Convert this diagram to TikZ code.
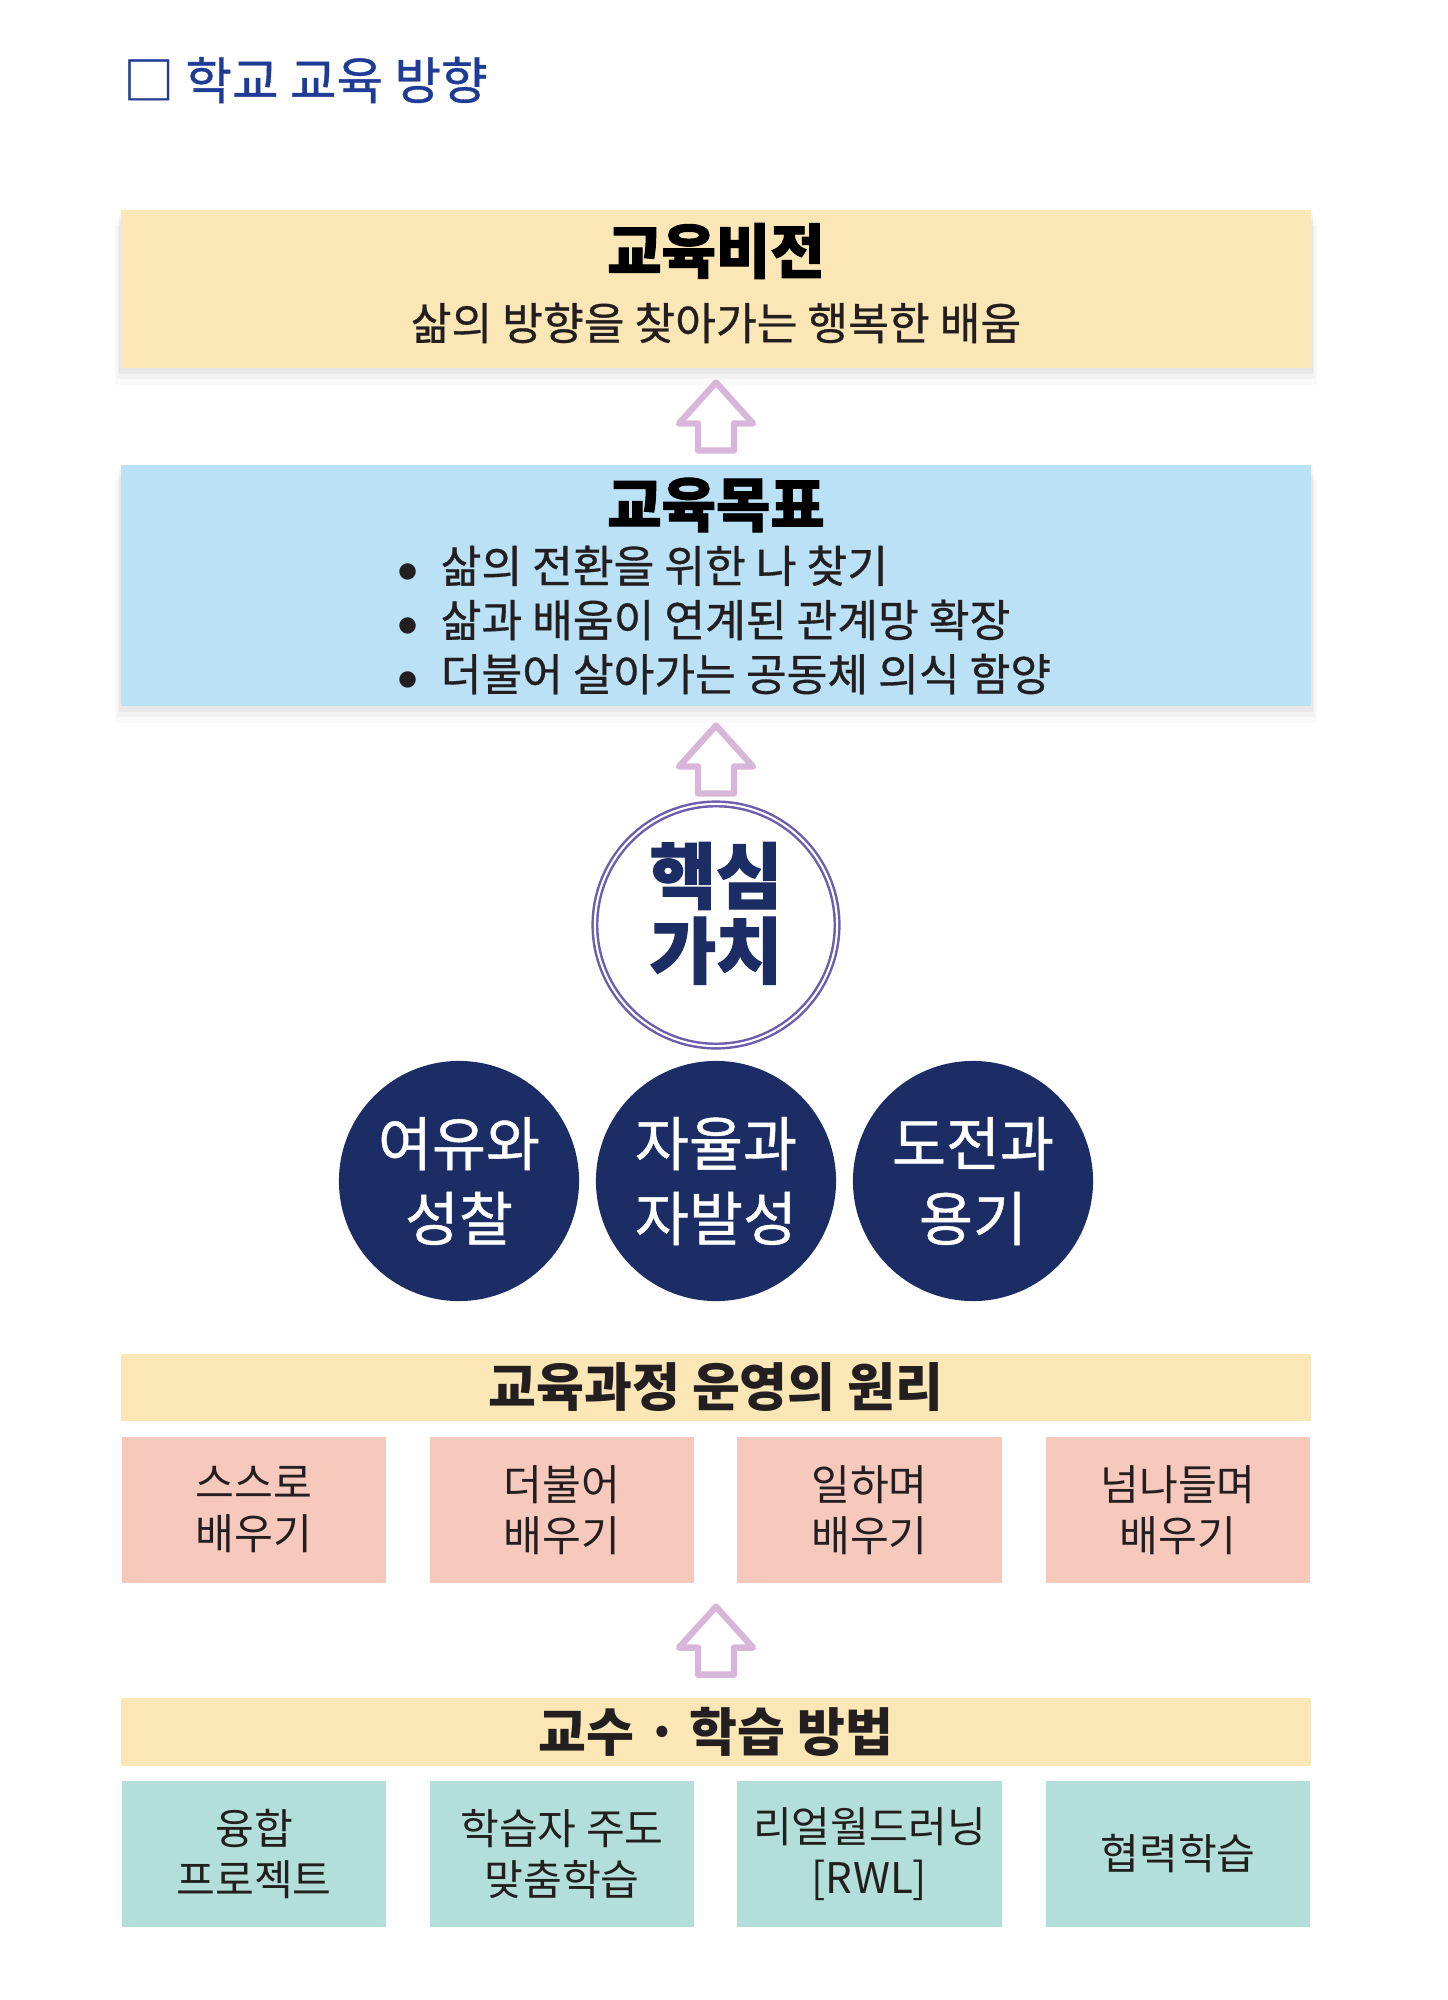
\documentclass[tikz,border=0pt]{standalone}
\usepackage{fontspec}
\usepackage{tikz}
\usepackage{xcolor}
\setmainfont{Noto Sans CJK KR}
\newfontfamily\krheavy{Noto Sans CJK KR}[BoldFeatures={FakeBold=1.6}]
\newfontfamily\krmed{Noto Sans CJK KR}[FakeBold=0.7]
\usetikzlibrary{shapes, positioning, calc, shadows}

\definecolor{headblue}{HTML}{1E3B95}
\definecolor{visionyellow}{HTML}{FBE6B5}
\definecolor{goalblue}{HTML}{BBE1F6}
\definecolor{principlepink}{HTML}{F7C8BC}
\definecolor{methodteal}{HTML}{B3DFDA}
\definecolor{valuenavy}{HTML}{1B2D64}
\definecolor{ringpurple}{HTML}{6D5DAE}
\definecolor{arrowpurple}{HTML}{D8B6DA}
\definecolor{inkdark}{HTML}{231F20}

\tikzset{
    softshadow/.style={drop shadow={shadow xshift=0pt, shadow yshift=-1.5pt, opacity=.10, shadow scale=1.003},
        drop shadow={shadow xshift=0pt, shadow yshift=-3pt, opacity=.06, shadow scale=1.006},
        drop shadow={shadow xshift=0pt, shadow yshift=-4.5pt, opacity=.04, shadow scale=1.01}},
    bigtitle/.style={font=\fontsize{16.8}{19}\selectfont\krheavy\bfseries, text=black},
    subtext/.style={font=\fontsize{12.6}{15.4}\selectfont\krmed, text=inkdark},
    band/.style={rectangle, fill=visionyellow, minimum width=11.9cm, minimum height=0.675cm, inner sep=0pt,
        font=\fontsize{14.8}{16}\selectfont\bfseries, text=inkdark},
    tile/.style={rectangle, minimum width=2.645cm, minimum height=1.46cm, inner sep=0pt, align=center,
        font=\fontsize{12}{14.5}\selectfont, text=inkdark},
    valuecirc/.style={circle, fill=valuenavy, minimum size=2.4cm, inner sep=0pt, align=center,
        font=\fontsize{16.7}{21.3}\selectfont\krmed, text=white},
    arrowline/.style={draw=arrowpurple, fill=white, line width=1.8pt, line join=round},
    uparr/.pic={\draw[arrowline] (0,-34) -- (37,7) -- (18,7) -- (18,34) -- (-18,34) -- (-18,7) -- (-37,7) -- cycle;}
}

\begin{document}
\begin{tikzpicture}[x=0.01cm, y=-0.01cm]
    \useasboundingbox (0,0) rectangle (1447,2000);

    % heading
    \node[anchor=west, text=headblue, font=\fontsize{14.4}{16}\selectfont\krmed] (heading) at (111,80) {□ 학교 교육 방향};

    % vision and goals
    \node[rectangle, fill=visionyellow, softshadow, minimum width=11.9cm, minimum height=1.58cm] (vision) at (716,289) {};
    \node[bigtitle] (visiontitle) at (716,251) {교육비전};
    \node[subtext] (visiontext) at (716,323) {삶의 방향을 찾아가는 행복한 배움};

    \node[rectangle, fill=goalblue, softshadow, minimum width=11.9cm, minimum height=2.41cm] (goal) at (716,585.5) {};
    \node[bigtitle] (goaltitle) at (716,505) {교육목표};
    \node[subtext, anchor=west, align=left, inner sep=0pt] (goallist) at (397,620) {%
        \makebox[0.43cm][l]{\large$\bullet$}삶의 전환을 위한 나 찾기\\
        \makebox[0.43cm][l]{\large$\bullet$}삶과 배움이 연계된 관계망 확장\\
        \makebox[0.43cm][l]{\large$\bullet$}더불어 살아가는 공동체 의식 함양};

    % core values
    \node[circle, draw=ringpurple, line width=0.7pt, double=white, double distance=0.6pt, fill=white,
        minimum size=2.42cm, inner sep=0pt, align=center, text depth=0.3cm, text=valuenavy,
        font=\fontsize{20.5}{21.3}\selectfont\krheavy\bfseries] (core) at (716,925) {핵심\\가치};
    \node[valuecirc] (reflect) at (459,1181) {여유와\\성찰};
    \node[valuecirc] (autonomy) at (716,1181) {자율과\\자발성};
    \node[valuecirc] (challenge) at (973,1181) {도전과\\용기};

    % principles
    \node[band] (principle) at (716,1387.5) {교육과정 운영의 원리};
    \node[tile, fill=principlepink] (selflearn) at (254,1510) {스스로\\배우기};
    \node[tile, fill=principlepink] (togetherlearn) at (562,1510) {더불어\\배우기};
    \node[tile, fill=principlepink] (worklearn) at (869.5,1510) {일하며\\배우기};
    \node[tile, fill=principlepink] (crosslearn) at (1178,1510) {넘나들며\\배우기};

    % methods
    \node[band] (method) at (716,1732) {교수 · 학습 방법};
    \node[tile, fill=methodteal] (project) at (254,1854) {융합\\프로젝트};
    \node[tile, fill=methodteal] (custom) at (562,1854) {학습자 주도\\맞춤학습};
    \node[tile, fill=methodteal] (rwl) at (869.5,1854) {리얼월드러닝\\{[RWL]}};
    \node[tile, fill=methodteal] (coop) at (1178,1854) {협력학습};

    % arrows
    \pic at ($(vision.south)!.5!(goal.north)$) {uparr};
    \pic at ($(goal.south)!.55!(core.north)$) {uparr};
    \pic at ($(principle.center |- selflearn.south)!.5!(method.north)$) {uparr};
\end{tikzpicture}
\end{document}
